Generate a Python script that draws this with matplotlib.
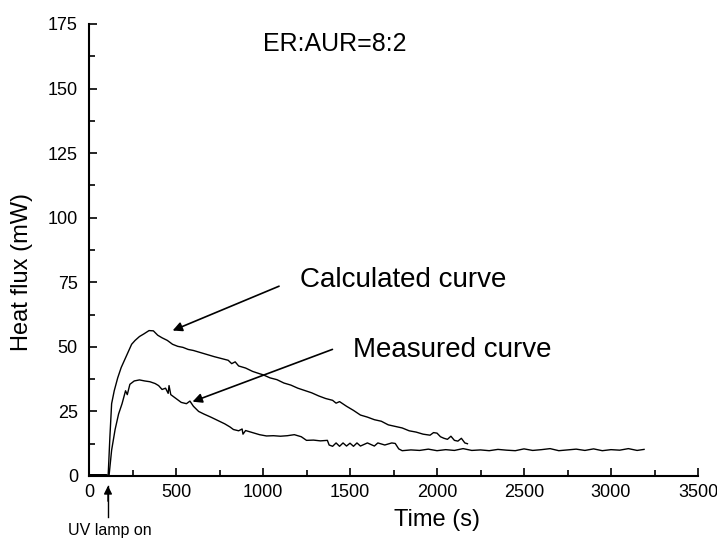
import matplotlib.pyplot as plt
from matplotlib.ticker import MultipleLocator

plt.rcParams['font.family'] = ['Liberation Sans', 'DejaVu Sans']

# Calculated curve (time in s, heat flux in mW)
calc_t = [0, 50, 100, 110, 120, 130, 145, 165, 185, 205, 225, 245, 265, 290, 315,
          345, 370, 395, 420, 450, 480, 510, 540, 570, 600, 640, 680, 720, 760, 800,
          820, 840, 860, 900, 940, 980, 1000, 1040, 1080, 1120, 1160, 1200, 1240,
          1280, 1320, 1360, 1400, 1420, 1440, 1480, 1520, 1560, 1600, 1640, 1680,
          1720, 1760, 1800, 1840, 1880, 1920, 1960, 1980, 2000, 2020, 2040, 2060,
          2080, 2100, 2120, 2140, 2160, 2175]
calc_q = [0.5, 0.5, 0.5, 0.0, 15.0, 28.0, 33.0, 38.0, 42.0, 45.0, 48.0, 51.0, 52.5,
          54.0, 55.0, 56.3, 56.2, 54.5, 53.5, 52.5, 51.0, 50.2, 49.8, 49.0, 48.6,
          47.8, 47.0, 46.2, 45.5, 44.8, 43.5, 44.2, 42.6, 41.8, 40.5, 39.6, 39.2,
          38.0, 37.3, 36.0, 35.2, 34.0, 33.1, 32.2, 31.0, 30.0, 29.3, 28.2, 28.8,
          27.0, 25.4, 23.6, 22.8, 21.8, 21.2, 19.8, 19.2, 18.6, 17.5, 17.0, 16.2,
          15.8, 16.8, 16.6, 15.2, 14.6, 14.2, 15.4, 13.8, 13.5, 14.6, 12.8, 12.5]

# Measured curve
meas_t = [0, 50, 100, 115, 130, 150, 170, 190, 210, 220, 235, 260, 290, 320, 350,
          380, 400, 420, 440, 455, 460, 470, 500, 530, 560, 580, 600, 630, 660, 700,
          740, 780, 810, 830, 860, 880, 885, 900, 940, 980, 1020, 1060, 1100, 1140,
          1180, 1220, 1250, 1290, 1330, 1370, 1380, 1400, 1420, 1440, 1460, 1480,
          1500, 1520, 1540, 1560, 1600, 1640, 1660, 1700, 1740, 1760, 1780, 1800,
          1850, 1900, 1950, 2000, 2050, 2100, 2150, 2200, 2250, 2300, 2350, 2400,
          2450, 2500, 2550, 2600, 2650, 2700, 2750, 2800, 2850, 2900, 2950, 3000,
          3050, 3100, 3150, 3190]
meas_q = [0.3, 0.3, 0.3, 0.0, 10.0, 18.0, 24.0, 28.0, 33.0, 31.5, 35.5, 36.8, 37.2,
          36.8, 36.5, 35.8, 35.0, 33.5, 34.0, 32.0, 35.0, 31.5, 30.0, 28.5, 28.0,
          29.0, 27.0, 25.0, 24.0, 22.8, 21.5, 20.2, 19.0, 18.0, 17.5, 18.2, 16.2,
          17.6, 16.8, 16.0, 15.5, 15.6, 15.4, 15.6, 16.0, 15.2, 13.8, 13.9, 13.6,
          13.8, 12.0, 11.5, 12.8, 11.5, 12.8, 11.6, 12.7, 11.5, 12.8, 11.6, 12.8,
          11.6, 12.8, 12.0, 12.8, 12.6, 10.5, 9.8, 10.1, 9.9, 10.4, 9.8, 10.2, 9.9,
          10.6, 9.9, 10.1, 9.8, 10.3, 10.0, 9.8, 10.5, 9.9, 10.2, 10.6, 9.8, 10.1,
          10.4, 9.9, 10.5, 9.8, 10.2, 10.0, 10.6, 9.9, 10.3]

fig = plt.figure(figsize=(7.17, 5.44), dpi=100)
ax = fig.add_axes([89 / 717, 68 / 544, 609 / 717, 452 / 544])

ax.plot(calc_t, calc_q, color='black', lw=1.0)
ax.plot(meas_t, meas_q, color='black', lw=1.0)

ax.set_xlim(0, 3500)
ax.set_ylim(0, 175)
ax.xaxis.set_major_locator(MultipleLocator(500))
ax.xaxis.set_minor_locator(MultipleLocator(250))
ax.yaxis.set_major_locator(MultipleLocator(25))
ax.yaxis.set_minor_locator(MultipleLocator(12.5))
ax.tick_params(which='both', direction='in', width=1.2, labelsize=13)
ax.tick_params(which='major', length=6)
ax.tick_params(which='minor', length=4)
ax.tick_params(axis='y', pad=8)
ax.tick_params(axis='x', pad=6)
for s in ['top', 'right']:
    ax.spines[s].set_visible(False)
for s in ['left', 'bottom']:
    ax.spines[s].set_linewidth(1.5)

ax.set_xlabel('Time (s)', fontsize=17, va='center')
ax.xaxis.set_label_coords(0.571, -0.097)
ax.set_ylabel('Heat flux (mW)', fontsize=17, va='center')
ax.yaxis.set_label_coords(-0.110, 0.451)

ax.text(1414, 164.5, 'ER:AUR=8:2', fontsize=18, ha='center', va='baseline')
ax.text(1213, 73.2, 'Calculated curve', fontsize=20, ha='left', va='baseline')
ax.text(1517, 46.1, 'Measured curve', fontsize=20, ha='left', va='baseline')

arrow = dict(arrowstyle='-|>', color='black', lw=1.2, mutation_scale=14)
ax.annotate('', xy=(466, 55.9), xytext=(1107, 73.9), arrowprops=arrow)
ax.annotate('', xy=(580, 28.4), xytext=(1414, 49.4), arrowprops=arrow)

# UV lamp marker below the axis
fig.add_artist(plt.Line2D([108 / 717, 108 / 717], [27 / 544, 58 / 544], color='black', lw=1.0))
ax.annotate('', xy=(108 / 717, 61 / 544), xytext=(108 / 717, 40 / 544), xycoords='figure fraction',
            textcoords='figure fraction', arrowprops=dict(arrowstyle='-|>', color='black', lw=1.0,
                                                          mutation_scale=12))
fig.text(110 / 717, 13 / 544, 'UV lamp on', fontsize=11.5, ha='center', va='center')

fig.savefig('out.png', dpi=100)
